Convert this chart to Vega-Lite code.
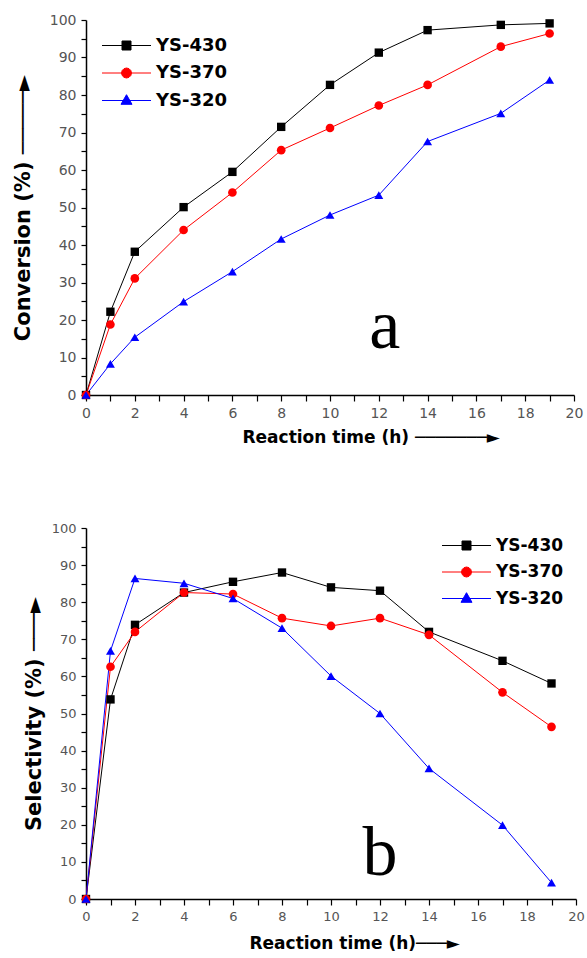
{
  "$schema": "https://vega.github.io/schema/vega-lite/v6.json",
  "padding": {"left": 12, "top": 13, "right": 5, "bottom": 1},
  "spacing": 77,
  "config": {
    "view": {"stroke": null},
    "font": "DejaVu Sans",
    "axis": {"grid": false, "labelOverlap": false, "labelFlush": false, "format": "d", "tickCount": 30, "domainColor": "black", "domainWidth": 1.5, "tickColor": "black", "tickWidth": 1.2, "labelColor": "#555555", "labelFont": "DejaVu Sans", "titleFont": "DejaVu Sans", "titleFontWeight": "bold", "titleColor": "black"}
  },
  "datasets": {
    "conv": [
      {"time": 0, "value": 0, "series": "YS-430"}, {"time": 1, "value": 22.2, "series": "YS-430"}, {"time": 2, "value": 38.2, "series": "YS-430"}, {"time": 4, "value": 50.1, "series": "YS-430"}, {"time": 6, "value": 59.5, "series": "YS-430"}, {"time": 8, "value": 71.5, "series": "YS-430"}, {"time": 10, "value": 82.7, "series": "YS-430"}, {"time": 12, "value": 91.3, "series": "YS-430"}, {"time": 14, "value": 97.3, "series": "YS-430"}, {"time": 17, "value": 98.7, "series": "YS-430"}, {"time": 19, "value": 99.1, "series": "YS-430"},
      {"time": 0, "value": 0, "series": "YS-370"}, {"time": 1, "value": 18.8, "series": "YS-370"}, {"time": 2, "value": 31.1, "series": "YS-370"}, {"time": 4, "value": 44, "series": "YS-370"}, {"time": 6, "value": 54, "series": "YS-370"}, {"time": 8, "value": 65.3, "series": "YS-370"}, {"time": 10, "value": 71.2, "series": "YS-370"}, {"time": 12, "value": 77.2, "series": "YS-370"}, {"time": 14, "value": 82.7, "series": "YS-370"}, {"time": 17, "value": 92.9, "series": "YS-370"}, {"time": 19, "value": 96.4, "series": "YS-370"},
      {"time": 0, "value": 0, "series": "YS-320"}, {"time": 1, "value": 8.3, "series": "YS-320"}, {"time": 2, "value": 15.4, "series": "YS-320"}, {"time": 4, "value": 24.9, "series": "YS-320"}, {"time": 6, "value": 32.9, "series": "YS-320"}, {"time": 8, "value": 41.6, "series": "YS-320"}, {"time": 10, "value": 48, "series": "YS-320"}, {"time": 12, "value": 53.3, "series": "YS-320"}, {"time": 14, "value": 67.6, "series": "YS-320"}, {"time": 17, "value": 75.1, "series": "YS-320"}, {"time": 19, "value": 84, "series": "YS-320"}
    ],
    "sel": [
      {"time": 0, "value": 0, "series": "YS-430"}, {"time": 1, "value": 53.8, "series": "YS-430"}, {"time": 2, "value": 73.9, "series": "YS-430"}, {"time": 4, "value": 82.6, "series": "YS-430"}, {"time": 6, "value": 85.5, "series": "YS-430"}, {"time": 8, "value": 88, "series": "YS-430"}, {"time": 10, "value": 84, "series": "YS-430"}, {"time": 12, "value": 83.1, "series": "YS-430"}, {"time": 14, "value": 72, "series": "YS-430"}, {"time": 17, "value": 64.2, "series": "YS-430"}, {"time": 19, "value": 58.1, "series": "YS-430"},
      {"time": 0, "value": 0, "series": "YS-370"}, {"time": 1, "value": 62.6, "series": "YS-370"}, {"time": 2, "value": 72, "series": "YS-370"}, {"time": 4, "value": 82.6, "series": "YS-370"}, {"time": 6, "value": 82.2, "series": "YS-370"}, {"time": 8, "value": 75.7, "series": "YS-370"}, {"time": 10, "value": 73.6, "series": "YS-370"}, {"time": 12, "value": 75.7, "series": "YS-370"}, {"time": 14, "value": 71.2, "series": "YS-370"}, {"time": 17, "value": 55.7, "series": "YS-370"}, {"time": 19, "value": 46.4, "series": "YS-370"},
      {"time": 0, "value": 0, "series": "YS-320"}, {"time": 1, "value": 66.9, "series": "YS-320"}, {"time": 2, "value": 86.4, "series": "YS-320"}, {"time": 4, "value": 85.1, "series": "YS-320"}, {"time": 6, "value": 81, "series": "YS-320"}, {"time": 8, "value": 73, "series": "YS-320"}, {"time": 10, "value": 60.1, "series": "YS-320"}, {"time": 12, "value": 50, "series": "YS-320"}, {"time": 14, "value": 35.2, "series": "YS-320"}, {"time": 17, "value": 19.9, "series": "YS-320"}, {"time": 19, "value": 4.4, "series": "YS-320"}
    ]
  },
  "resolve": {"scale": {"color": "independent"}, "legend": {"color": "independent"}},
  "vconcat": [
    {
      "width": 488,
      "height": 375,
      "layer": [
        {
          "data": {"name": "conv"},
          "mark": {"type": "line", "strokeWidth": 1},
          "encoding": {
            "x": {"field": "time", "type": "quantitative", "scale": {"domain": [0, 20]},
              "axis": {"title": "Reaction time (h) \u2500\u2500\u2500\u2500\u2500\u2500\u2500\u25BA", "values": [0,1,2,3,4,5,6,7,8,9,10,11,12,13,14,15,16,17,18,19,20], "tickCount": 30, "format": "d", "labelFlush": false, "labelExpr": "datum.value % 2 === 0 ? datum.label : ''", "labelOverlap": false, "tickSize": 6, "labelPadding": 5, "labelFontSize": 14, "titleFontSize": 17, "titleX": 156, "titleAlign": "left", "titlePadding": 9,
                "encode": {"ticks": {"update": {"y2": {"signal": "datum.value % 2 === 0 ? 6 : 3"}}}}}},
            "y": {"field": "value", "type": "quantitative", "scale": {"domain": [0, 100]},
              "axis": {"title": "Conversion (%) \u2500\u2500\u2500\u2500\u2500\u25BA", "values": [0,5,10,15,20,25,30,35,40,45,50,55,60,65,70,75,80,85,90,95,100], "tickCount": 30, "format": "d", "labelFlush": false, "labelExpr": "datum.value % 10 === 0 ? datum.label : ''", "labelOverlap": false, "tickSize": 5, "labelPadding": 5, "labelFontSize": 14, "titleFontSize": 21, "titlePadding": 16,
                "encode": {"ticks": {"update": {"x2": {"signal": "datum.value % 10 === 0 ? -5 : -3"}}}}}},
            "color": {"field": "series", "type": "nominal", "scale": {"domain": ["YS-430", "YS-370", "YS-320"], "range": ["#000000", "#ff0000", "#0000ff"]},
              "legend": {"orient": "none", "legendX": 30, "legendY": 15, "title": null, "symbolSize": 400, "symbolStrokeWidth": 1, "labelFont": "DejaVu Sans", "labelFontWeight": "bold", "labelFontSize": 18, "labelColor": "black", "labelOffset": 19, "rowPadding": 7.5,
                "encode": {"symbols": {"update": {
                  "shape": {"signal": "datum.value === 'YS-430' ? 'M-2.45,0H2.45M-0.45,-0.45H0.45V0.45H-0.45Z' : datum.value === 'YS-370' ? 'M-2.45,0H2.45M0.5,0L0.433,0.25L0.25,0.433L0,0.5L-0.25,0.433L-0.433,0.25L-0.5,0L-0.433,-0.25L-0.25,-0.433L0,-0.5L0.25,-0.433L0.433,-0.25Z' : 'M-2.45,0H2.45M0,-0.58L0.55,0.38L-0.55,0.38Z'"},
                  "fill": {"signal": "datum.value === 'YS-430' ? '#000000' : datum.value === 'YS-370' ? '#ff0000' : '#0000ff'"},
                  "stroke": {"signal": "datum.value === 'YS-430' ? '#000000' : datum.value === 'YS-370' ? '#ff0000' : '#0000ff'"},
                  "opacity": {"value": 1}, "fillOpacity": {"value": 1}}}}}}
          }
        },
        {
          "data": {"name": "conv"},
          "transform": [{"filter": "datum.series === 'YS-430'"}],
          "mark": {"type": "point", "filled": true, "size": 70, "opacity": 1, "shape": "square"},
          "encoding": {
            "x": {"field": "time", "type": "quantitative"},
            "y": {"field": "value", "type": "quantitative"},
            "color": {"field": "series", "type": "nominal", "legend": null}
          }
        },
        {
          "data": {"name": "conv"},
          "transform": [{"filter": "datum.series === 'YS-370'"}],
          "mark": {"type": "point", "filled": true, "size": 75, "opacity": 1, "shape": "circle"},
          "encoding": {
            "x": {"field": "time", "type": "quantitative"},
            "y": {"field": "value", "type": "quantitative"},
            "color": {"field": "series", "type": "nominal", "legend": null}
          }
        },
        {
          "data": {"name": "conv"},
          "transform": [{"filter": "datum.series === 'YS-320'"}],
          "mark": {"type": "point", "filled": true, "size": 80, "opacity": 1, "shape": "triangle-up"},
          "encoding": {
            "x": {"field": "time", "type": "quantitative"},
            "y": {"field": "value", "type": "quantitative"},
            "color": {"field": "series", "type": "nominal", "legend": null}
          }
        },
        {
          "data": {"values": [{"time": 12.25, "value": 12.5, "label": "a"}]},
          "mark": {"type": "text", "font": "Liberation Serif", "fontSize": 70, "baseline": "alphabetic", "align": "center", "color": "black"},
          "encoding": {
            "x": {"field": "time", "type": "quantitative"},
            "y": {"field": "value", "type": "quantitative"},
            "text": {"field": "label"}
          }
        }
      ]
    },
    {
      "width": 490,
      "height": 371,
      "layer": [
        {
          "data": {"name": "sel"},
          "mark": {"type": "line", "strokeWidth": 1},
          "encoding": {
            "x": {"field": "time", "type": "quantitative", "scale": {"domain": [0, 20]},
              "axis": {"title": "Reaction time (h)\u2500\u2500\u2500\u25BA", "values": [0,1,2,3,4,5,6,7,8,9,10,11,12,13,14,15,16,17,18,19,20], "tickCount": 30, "format": "d", "labelFlush": false, "labelExpr": "datum.value % 2 === 0 ? datum.label : ''", "labelOverlap": false, "tickSize": 6, "labelPadding": 5, "labelFontSize": 13, "titleFontSize": 17, "titleX": 163, "titleAlign": "left", "titlePadding": 12,
                "encode": {"ticks": {"update": {"y2": {"signal": "datum.value % 2 === 0 ? 6 : 3"}}}}}},
            "y": {"field": "value", "type": "quantitative", "scale": {"domain": [0, 100]},
              "axis": {"title": "Selectivity (%) \u2500\u2500\u2500\u25BA", "values": [0,5,10,15,20,25,30,35,40,45,50,55,60,65,70,75,80,85,90,95,100], "tickCount": 30, "format": "d", "labelFlush": false, "labelExpr": "datum.value % 10 === 0 ? datum.label : ''", "labelOverlap": false, "tickSize": 5, "labelPadding": 5, "labelFontSize": 13, "titleFontSize": 21, "titlePadding": 7,
                "encode": {"ticks": {"update": {"x2": {"signal": "datum.value % 10 === 0 ? -5 : -3"}}}}}},
            "color": {"field": "series", "type": "nominal", "scale": {"domain": ["YS-430", "YS-370", "YS-320"], "range": ["#000000", "#ff0000", "#0000ff"]},
              "legend": {"orient": "none", "legendX": 370, "legendY": 7, "title": null, "symbolSize": 400, "symbolStrokeWidth": 1, "labelFont": "DejaVu Sans", "labelFontWeight": "bold", "labelFontSize": 17, "labelColor": "black", "labelOffset": 19, "rowPadding": 7.5,
                "encode": {"symbols": {"update": {
                  "shape": {"signal": "datum.value === 'YS-430' ? 'M-2.45,0H2.45M-0.45,-0.45H0.45V0.45H-0.45Z' : datum.value === 'YS-370' ? 'M-2.45,0H2.45M0.5,0L0.433,0.25L0.25,0.433L0,0.5L-0.25,0.433L-0.433,0.25L-0.5,0L-0.433,-0.25L-0.25,-0.433L0,-0.5L0.25,-0.433L0.433,-0.25Z' : 'M-2.45,0H2.45M0,-0.58L0.55,0.38L-0.55,0.38Z'"},
                  "fill": {"signal": "datum.value === 'YS-430' ? '#000000' : datum.value === 'YS-370' ? '#ff0000' : '#0000ff'"},
                  "stroke": {"signal": "datum.value === 'YS-430' ? '#000000' : datum.value === 'YS-370' ? '#ff0000' : '#0000ff'"},
                  "opacity": {"value": 1}, "fillOpacity": {"value": 1}}}}}}
          }
        },
        {
          "data": {"name": "sel"},
          "transform": [{"filter": "datum.series === 'YS-430'"}],
          "mark": {"type": "point", "filled": true, "size": 70, "opacity": 1, "shape": "square"},
          "encoding": {
            "x": {"field": "time", "type": "quantitative"},
            "y": {"field": "value", "type": "quantitative"},
            "color": {"field": "series", "type": "nominal", "legend": null}
          }
        },
        {
          "data": {"name": "sel"},
          "transform": [{"filter": "datum.series === 'YS-370'"}],
          "mark": {"type": "point", "filled": true, "size": 75, "opacity": 1, "shape": "circle"},
          "encoding": {
            "x": {"field": "time", "type": "quantitative"},
            "y": {"field": "value", "type": "quantitative"},
            "color": {"field": "series", "type": "nominal", "legend": null}
          }
        },
        {
          "data": {"name": "sel"},
          "transform": [{"filter": "datum.series === 'YS-320'"}],
          "mark": {"type": "point", "filled": true, "size": 80, "opacity": 1, "shape": "triangle-up"},
          "encoding": {
            "x": {"field": "time", "type": "quantitative"},
            "y": {"field": "value", "type": "quantitative"},
            "color": {"field": "series", "type": "nominal", "legend": null}
          }
        },
        {
          "data": {"values": [{"time": 12.0, "value": 6.5, "label": "b"}]},
          "mark": {"type": "text", "font": "Liberation Serif", "fontSize": 70, "baseline": "alphabetic", "align": "center", "color": "black"},
          "encoding": {
            "x": {"field": "time", "type": "quantitative"},
            "y": {"field": "value", "type": "quantitative"},
            "text": {"field": "label"}
          }
        }
      ]
    }
  ]
}
